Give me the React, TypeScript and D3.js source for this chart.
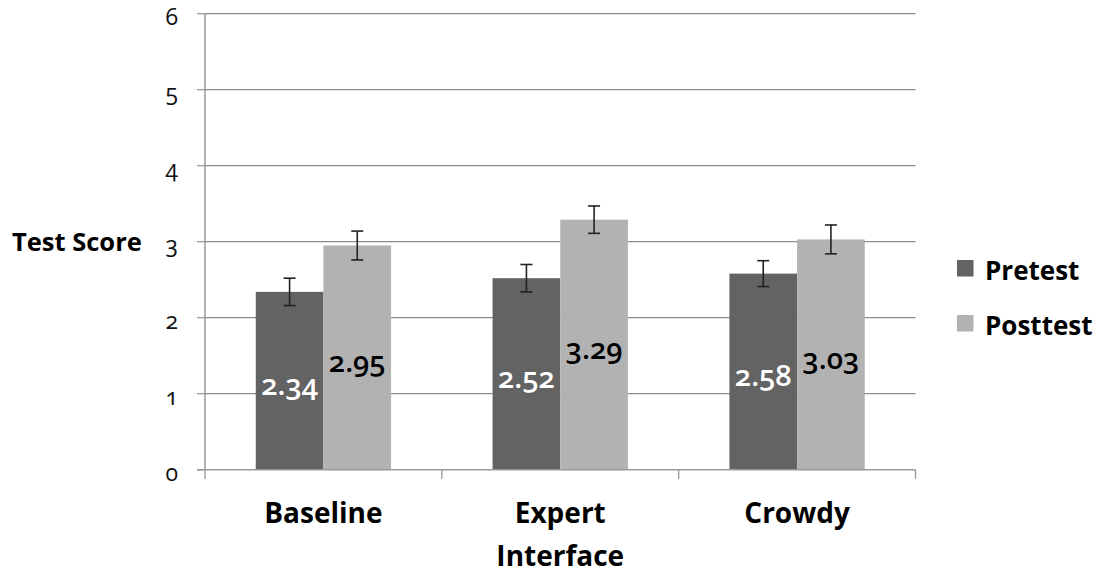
import React from "react";
import * as d3 from "d3";

const categories = ["Baseline", "Expert Interface", "Crowdy"];
const seriesNames = ["Pretest", "Posttest"];
const pretest = [2.34, 2.52, 2.58];
const posttest = [2.95, 3.29, 3.03];
const pretestErr = [0.18, 0.18, 0.17];
const posttestErr = [0.19, 0.18, 0.19];
const yTicks = [0, 1, 2, 3, 4, 5, 6];

const W = 1105;
const H = 573;
const FONT = "'Open Sans', 'DejaVu Sans', sans-serif";
const COLORS = ["#636363", "#b2b2b2"];
const LABEL_COLORS = ["#ffffff", "#000000"];

export default function App() {
  const x0 = d3.scaleBand<string>().domain(categories).range([205, 915.5]).paddingInner(0).paddingOuter(0);
  const x1 = d3.scaleBand<string>().domain(seriesNames).range([0, x0.bandwidth()]).paddingInner(0).paddingOuter(0.75);
  const y = d3.scaleLinear().domain([0, 6]).range([469.7, 13.7]);
  const values = [pretest, posttest];
  const errs = [pretestErr, posttestErr];
  const fmt = d3.format(".2f");
  const boundaries = [...categories.map((c) => x0(c) as number), 915.5];

  return (
    <svg width={W} height={H} style={{ position: "absolute", left: 0, top: 0, background: "#fff" }} fontFamily={FONT}>
      {yTicks.filter((t) => t > 0).map((t) => (
        <line key={"g" + t} x1={205} x2={915.5} y1={y(t)} y2={y(t)} stroke="#8c8c8c" strokeWidth={1.3} />
      ))}
      {yTicks.map((t) => (
        <line key={"yt" + t} x1={197} x2={205} y1={y(t)} y2={y(t)} stroke="#999" strokeWidth={1.3} />
      ))}
      {yTicks.map((t) => (
        <text key={"yl" + t} x={178} y={y(t) + 11.5} textAnchor="end" fontSize={23} fill="#111" style={{ fontVariantNumeric: "oldstyle-nums" }}>
          {t}
        </text>
      ))}
      {categories.map((c, ci) =>
        seriesNames.map((s, si) => {
          const v = values[si][ci];
          const bx = (x0(c) as number) + (x1(s) as number);
          return (
            <rect key={c + s} x={bx} y={y(v)} width={x1.bandwidth()} height={y(0) - y(v)} fill={COLORS[si]} />
          );
        })
      )}
      {categories.map((c, ci) =>
        seriesNames.map((s, si) => {
          const v = values[si][ci];
          const e = errs[si][ci];
          const cx = (x0(c) as number) + (x1(s) as number) + x1.bandwidth() / 2;
          return (
            <g key={"e" + c + s} stroke="#222" strokeWidth={1.6}>
              <line x1={cx} x2={cx} y1={y(v + e)} y2={y(v - e)} />
              <line x1={cx - 6} x2={cx + 6} y1={y(v + e)} y2={y(v + e)} />
              <line x1={cx - 6} x2={cx + 6} y1={y(v - e)} y2={y(v - e)} />
            </g>
          );
        })
      )}
      {categories.map((c, ci) =>
        seriesNames.map((s, si) => {
          const v = values[si][ci];
          const cx = (x0(c) as number) + (x1(s) as number) + x1.bandwidth() / 2;
          const mid = (y(v) + y(0)) / 2;
          return (
            <text key={"v" + c + s} x={cx} y={mid + 14} textAnchor="middle" fontSize={29} fontWeight={600} fill={LABEL_COLORS[si]} style={{ fontVariantNumeric: "oldstyle-nums" }}>
              {fmt(v)}
            </text>
          );
        })
      )}
      <line x1={205} x2={205} y1={13.7} y2={469.7} stroke="#999" strokeWidth={1.5} />
      <line x1={197} x2={915.5} y1={469.7} y2={469.7} stroke="#999" strokeWidth={1.5} />
      {boundaries.map((b, i) => (
        <line key={"xt" + i} x1={b} x2={b} y1={469.7} y2={479} stroke="#999" strokeWidth={1.3} />
      ))}
      {categories.map((c) => {
        const cx = (x0(c) as number) + x0.bandwidth() / 2;
        const lines = c.split(" ");
        return (
          <text key={"c" + c} x={cx} y={523} textAnchor="middle" fontSize={28} fontWeight={700} fill="#000">
            {lines.map((l, i) => (
              <tspan key={i} x={cx} dy={i === 0 ? 0 : 43}>{l}</tspan>
            ))}
          </text>
        );
      })}
      <text x={12} y={250.5} fontSize={25.5} fontWeight={700} fill="#000">Test Score</text>
      {seriesNames.map((s, i) => (
        <g key={"lg" + s}>
          <rect x={957} y={260 + i * 55} width={16.5} height={16.5} fill={COLORS[i]} />
          <text x={985} y={280 + i * 55} fontSize={26} fontWeight={700} fill="#000">{s}</text>
        </g>
      ))}
    </svg>
  );
}
